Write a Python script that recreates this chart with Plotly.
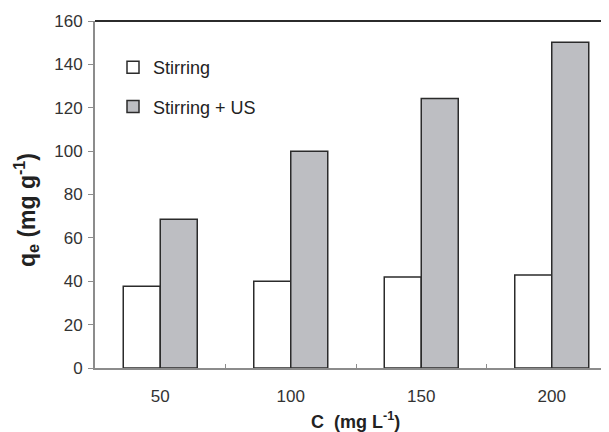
import plotly.graph_objects as go

categories = ["50", "100", "150", "200"]
stirring = [37.7, 40.0, 42.0, 42.9]
stirring_us = [68.6, 99.9, 124.3, 150.2]
y_ticks = [0, 20, 40, 60, 80, 100, 120, 140, 160]

FONT = "Liberation Sans, Arial, sans-serif"
DARK = "#2b2b2b"
GRAY = "#8c8c8c"

# page body has an 8px margin, so the figure is drawn at (8, 8)
OFF = 8
W, H = 609 - OFF, 432 - OFF
L, R, T, B = 95 - OFF, 0, 21 - OFF, 64
plot_w = W - L - R
plot_h = H - T - B
cat_px = 130.5
x_end = 3.5 - (95 + 4 * cat_px - 609) / cat_px


def px_x(x):
    return (x - OFF - L) / plot_w


def px_y(y):
    return (H - B - (y - OFF)) / plot_h


fig = go.Figure()
fig.add_trace(go.Bar(
    x=categories, y=stirring, name="Stirring", legendgroup="a",
    marker=dict(color="white", line=dict(color=DARK, width=1.5)),
))
fig.add_trace(go.Bar(
    x=categories, y=stirring_us, name="Stirring + US", legendgroup="b",
    marker=dict(color="#bdbec2", line=dict(color=DARK, width=1.5)),
))

fig.update_layout(
    width=W, height=H,
    margin=dict(l=L, r=R, t=T, b=B, pad=0),
    paper_bgcolor="white", plot_bgcolor="white",
    barmode="group", bargap=0.433, bargroupgap=0,
    font=dict(family=FONT, color="#333333", size=17),
    showlegend=True,
    legend=dict(
        x=px_x(113), y=px_y(49), xanchor="left", yanchor="top",
        font=dict(family=FONT, size=18, color="#222222"),
        traceorder="grouped", tracegroupgap=13,
        itemwidth=30,
        bgcolor="rgba(0,0,0,0)", borderwidth=0,
    ),
    xaxis=dict(
        type="category", range=[-0.5, x_end],
        showline=True, linecolor=GRAY, linewidth=2,
        ticks="inside", tickson="boundaries", ticklen=4, tickcolor=GRAY, tickwidth=1,
        showgrid=False, zeroline=False,
        tickfont=dict(family=FONT, size=17, color="#333333"),
        ticklabelstandoff=12,
    ),
    yaxis=dict(
        range=[0, 160], tickvals=y_ticks,
        showline=True, linecolor=GRAY, linewidth=2,
        ticks="outside", ticklen=5, tickcolor=GRAY, tickwidth=1,
        showgrid=False, zeroline=False,
        tickfont=dict(family=FONT, size=17, color="#333333"),
        ticklabelstandoff=2,
    ),
    shapes=[dict(type="line", xref="paper", yref="paper", x0=0, x1=1, y0=1, y1=1,
                 line=dict(color=DARK, width=2))],
    annotations=[
        dict(text="<b>q<sub>e</sub> (mg g<sup>-1</sup>)</b>", xref="paper", yref="paper",
             x=px_x(26), y=px_y(210), textangle=-90,
             showarrow=False, xanchor="center", yanchor="middle",
             font=dict(family=FONT, size=23, color="#222222")),
        dict(text="<b>C  (mg L<sup>-1</sup>)</b>", xref="paper", yref="paper",
             x=px_x(355), y=px_y(420),
             showarrow=False, xanchor="center", yanchor="middle",
             font=dict(family=FONT, size=18, color="#222222")),
    ],
)

fig.write_html("out.html")
